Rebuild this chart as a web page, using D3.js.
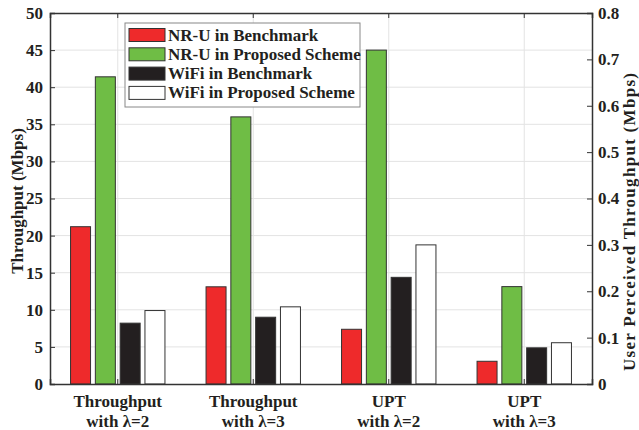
<!DOCTYPE html>
<html>
<head>
<meta charset="utf-8">
<script src="https://cdn.jsdelivr.net/npm/d3@7"></script>
<style>
  body { margin: 0; background: #fff; }
  svg text { font-family: "Liberation Serif", "Times New Roman", serif; font-weight: bold; fill: #231f20; }
</style>
</head>
<body>
<svg id="chart" width="639" height="430"></svg>
<script>
// Categories (two-line labels) and which axis each group uses
const categories = ["Throughput|with λ=2", "Throughput|with λ=3", "UPT|with λ=2", "UPT|with λ=3"];
const groupAxis = ["left", "left", "right", "right"];

// Series values per category (left axis in Mbps for throughput, right axis in Mbps for UPT)
const seriesNames = ["NR-U in Benchmark", "NR-U in Proposed Scheme", "WiFi in Benchmark", "WiFi in Proposed Scheme"];
const nruBenchmark = [21.2, 13.1, 0.118, 0.049];
const nruProposed  = [41.4, 36.0, 0.72, 0.21];
const wifiBenchmark = [8.2, 9.0, 0.23, 0.078];
const wifiProposed  = [9.9, 10.4, 0.30, 0.089];
const seriesColors = ["#ee2a2b", "#6fbd45", "#231f20", "#ffffff"];

const leftTicks = [0, 5, 10, 15, 20, 25, 30, 35, 40, 45, 50];
const rightTicks = [0, 0.1, 0.2, 0.3, 0.4, 0.5, 0.6, 0.7, 0.8];

const series = [nruBenchmark, nruProposed, wifiBenchmark, wifiProposed];

const svg = d3.select("#chart");
const margin = { left: 50, right: 47, top: 13, bottom: 46 };
const W = 639, H = 430;
const x0 = margin.left, x1 = W - margin.right, y0 = H - margin.bottom, y1 = margin.top;
const fontSize = "17px";

const x = d3.scaleBand().domain(categories).range([x0, x1]).paddingInner(0).paddingOuter(0);
const yL = d3.scaleLinear().domain([0, 50]).range([y0, y1]);
const yR = d3.scaleLinear().domain([0, 0.8]).range([y0, y1]);

const barW = 20, barStep = 24.8;
const xs = d3.scaleBand().domain(d3.range(4)).range([-2 * barStep, 2 * barStep]);

// Grid
const grid = svg.append("g");
grid.selectAll("line.h").data(leftTicks.slice(1, -1)).join("line")
  .attr("x1", x0).attr("x2", x1)
  .attr("y1", d => yL(d)).attr("y2", d => yL(d))
  .attr("stroke", "#e3e3e3").attr("stroke-width", 1);
grid.selectAll("line.v").data(categories).join("line")
  .attr("x1", d => x(d) + x.bandwidth() / 2).attr("x2", d => x(d) + x.bandwidth() / 2)
  .attr("y1", y0).attr("y2", y1)
  .attr("stroke", "#e3e3e3").attr("stroke-width", 1);

// Bars
const bars = [];
categories.forEach((c, i) => {
  const ys = groupAxis[i] === "left" ? yL : yR;
  series.forEach((s, j) => {
    bars.push({ c, j, v: s[i], ys });
  });
});
svg.append("g").selectAll("rect").data(bars).join("rect")
  .attr("x", d => x(d.c) + x.bandwidth() / 2 + xs(d.j) + (barStep - barW) / 2)
  .attr("width", barW)
  .attr("y", d => d.ys(d.v))
  .attr("height", d => y0 - d.ys(d.v))
  .attr("fill", d => seriesColors[d.j])
  .attr("stroke", "#333")
  .attr("stroke-width", 1);

// Axes
const axisColor = "#333";
const leftAxis = svg.append("g").attr("transform", `translate(${x0},0)`)
  .call(d3.axisLeft(yL).tickValues(leftTicks).tickSize(-5).tickFormat(d3.format("d")));
const rightAxis = svg.append("g").attr("transform", `translate(${x1},0)`)
  .call(d3.axisRight(yR).tickValues(rightTicks).tickSize(-5).tickFormat(d => d === 0 ? "0" : d3.format(".1f")(d)));
const bottomAxis = svg.append("g").attr("transform", `translate(0,${y0})`)
  .call(d3.axisBottom(x).tickSize(-5).tickFormat(""));
const topAxis = svg.append("g").attr("transform", `translate(0,${y1})`)
  .call(d3.axisTop(x).tickSize(-5).tickFormat(""));

[leftAxis, rightAxis, bottomAxis, topAxis].forEach(g => {
  g.select(".domain").attr("stroke", axisColor).attr("stroke-width", 1.5);
  g.selectAll(".tick line").attr("stroke", axisColor);
  g.selectAll("text").style("font-size", fontSize).style("font-family", "Liberation Serif, serif").style("font-weight", "bold").attr("fill", "#231f20");
});
rightAxis.selectAll("text").attr("x", 6);
leftAxis.selectAll("text").attr("x", -7);

// Category labels (two lines)
const catLabels = svg.append("g");
categories.forEach(c => {
  const [l1, l2] = c.split("|");
  const cx = x(c) + x.bandwidth() / 2;
  const t = catLabels.append("text").attr("text-anchor", "middle").style("font-size", fontSize);
  t.append("tspan").attr("x", cx).attr("y", 406.5).text(l1);
  t.append("tspan").attr("x", cx).attr("y", 427).text(l2);
});

// Axis titles
svg.append("text").attr("transform", `translate(23,201) rotate(-90)`)
  .attr("text-anchor", "middle").style("font-size", fontSize).text("Throughput (Mbps)");
svg.append("text").attr("transform", `translate(635,222) rotate(-90)`)
  .attr("text-anchor", "middle").style("font-size", fontSize)
  .attr("textLength", 298).attr("lengthAdjust", "spacing")
  .text("User Perceived Throughput (Mbps)");

// Legend
const lg = svg.append("g").attr("transform", "translate(125,23)");
lg.append("rect").attr("width", 235).attr("height", 84).attr("fill", "#fff").attr("stroke", "#888").attr("stroke-width", 1);
seriesNames.forEach((n, j) => {
  const cy = 12 + j * 19.3;
  lg.append("rect").attr("x", 4).attr("y", cy - 6.5).attr("width", 36).attr("height", 13)
    .attr("fill", seriesColors[j]).attr("stroke", "#333").attr("stroke-width", 1);
  lg.append("text").attr("x", 43).attr("y", cy + 5.5).style("font-size", fontSize).text(n);
});
</script>
</body>
</html>
